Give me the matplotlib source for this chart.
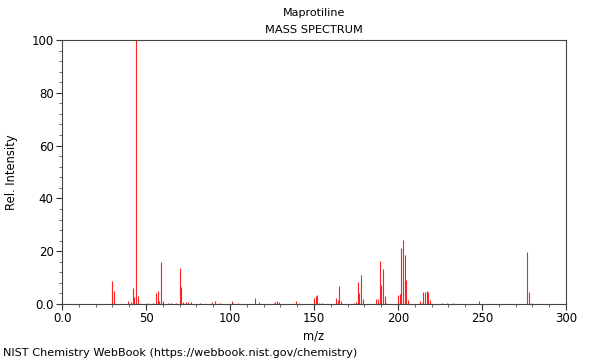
import numpy as np
import matplotlib
matplotlib.use('Agg')
import matplotlib.pyplot as plt
from matplotlib.ticker import MultipleLocator, FuncFormatter

# peaks
mz = [30, 31, 39, 41, 42, 43, 44, 45, 51, 54, 56, 57, 58, 59, 60, 63, 65, 68,
      70, 71, 72, 74, 75, 77, 82, 89, 91, 94, 101, 102, 105, 115, 117, 126,
      127, 128, 129, 139, 141, 150, 151, 152, 153, 155, 163, 164, 165, 166,
      174, 175, 176, 177, 178, 179, 187, 188, 189, 190, 191, 192, 193, 200,
      201, 202, 203, 204, 205, 206, 213, 214, 215, 216, 217, 218, 219, 226,
      229, 233, 248, 277, 278, 279]
intensity = [8.8, 4.9, 1.0, 0.8, 6.0, 2.5, 100, 3.0, 0.5, 0.5, 4.2, 5.0, 1.0,
             15.9, 1.0, 0.5, 0.5, 0.5, 13.8, 6.6, 0.8, 0.6, 0.6, 0.8, 0.4, 0.8,
             1.0, 0.5, 1.2, 0.5, 0.3, 2.3, 0.9, 0.5, 0.8, 1.2, 0.8, 1.3, 0.5,
             2.2, 3.2, 3.5, 0.5, 0.3, 2.3, 1.4, 6.8, 1.0, 0.5, 0.8, 8.5, 4.3,
             11.1, 2.0, 1.8, 1.8, 16.2, 7.2, 13.1, 3.1, 0.5, 3.4, 3.8, 21.3,
             24.2, 18.6, 9.1, 1.5, 1.2, 0.5, 4.5, 4.5, 4.9, 4.5, 1.5, 0.3, 0.3,
             0.3, 1.0, 19.7, 4.7, 0.5]

compound = 'Maprotiline'

fig = plt.figure(figsize=(6, 3.6), dpi=100)
ax = fig.add_axes([62 / 600, 56 / 360, 504 / 600, 264 / 360])

ax.vlines(mz, 0, intensity, colors='#ff2020', linewidth=0.8)

ax.set_xlim(0, 300)
ax.set_ylim(0, 100)
ax.xaxis.set_major_locator(MultipleLocator(50))
ax.xaxis.set_minor_locator(MultipleLocator(10))
ax.yaxis.set_major_locator(MultipleLocator(20))
ax.yaxis.set_minor_locator(MultipleLocator(4))
fmt = FuncFormatter(lambda v, p: '0.0' if v == 0 else '%d' % v)
ax.xaxis.set_major_formatter(fmt)
ax.yaxis.set_major_formatter(fmt)
ax.tick_params(which='major', direction='out', length=4, width=0.8,
               labelsize=8.5, color='#333333', pad=2)
ax.tick_params(which='minor', direction='out', length=2, width=0.6,
               color='#555555')
for s in ax.spines.values():
    s.set_color('#444444')
    s.set_linewidth(0.8)

ax.set_xlabel('m/z', fontsize=8.3, labelpad=3)
ax.set_ylabel('Rel. Intensity', fontsize=8.3, labelpad=10)

fig.text(314 / 600, 1 - 13 / 360, compound, ha='center', va='center', fontsize=8)
fig.text(314 / 600, 1 - 30 / 360, 'MASS SPECTRUM', ha='center', va='center', fontsize=8.2)
fig.text(3 / 600, 1 - 353 / 360,
         'NIST Chemistry WebBook (https://webbook.nist.gov/chemistry)',
         ha='left', va='center', fontsize=8.1)

fig.savefig('out.png', dpi=100)
